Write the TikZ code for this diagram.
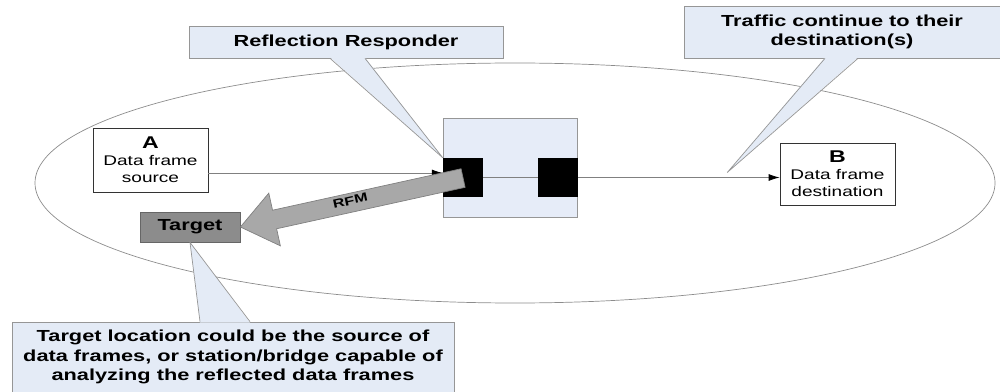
\documentclass[tikz,border=0pt]{standalone}
\usepackage{fontspec}
\setmainfont{Liberation Sans}[FakeStretch=1.36]
\usetikzlibrary{arrows.meta,calc}
\definecolor{callbg}{RGB}{228,235,246}
\definecolor{callrule}{RGB}{150,150,150}
\definecolor{bridgebg}{RGB}{230,236,248}
\definecolor{tgtgrey}{RGB}{140,140,140}
\definecolor{rfmgrey}{RGB}{168,168,168}
\tikzset{
  call/.style={draw=callrule,fill=callbg,align=center,inner sep=0pt,line width=0.7pt,
               font=\fontsize{16}{19.5}\selectfont\bfseries},
  callln/.style={draw=callrule,line width=0.7pt},
  endpt/.style={draw=black!80,fill=white,align=center,inner sep=0pt,line width=0.8pt,
                font=\fontsize{14}{17}\selectfont},
  port/.style={fill=black,minimum width=40,minimum height=39,inner sep=0pt},
  flow/.style={-{Latex[length=11pt,width=7pt,color=black]},draw=black!50,line width=0.8pt},
}

\begin{document}
\begin{tikzpicture}[x=1pt,y=1pt]
  \useasboundingbox (0,0) rectangle (1000,391);

  % --- domain ---------------------------------------------------------------
  \draw[draw=black!45,line width=0.7pt] (515,208) ellipse [x radius=480,y radius=120];

  % --- bridge with its two ports ----------------------------------------------
  \node[draw=callrule,fill=bridgebg,line width=0.8pt,minimum width=134,minimum height=99] (bridge) at (510,223.5) {};
  \node[port] (portl) at (463,213.5) {};
  \node[port] (portr) at (558,213.5) {};

  % --- end stations ---------------------------------------------------------
  \node[endpt,minimum width=115,minimum height=64] (srcA) at (150.5,231)
        {{\fontsize{17}{17}\selectfont\bfseries A}\\Data frame\\source};
  \node[endpt,minimum width=115,minimum height=62] (dstB) at (837.5,217)
        {{\fontsize{17}{17}\selectfont\bfseries B}\\Data frame\\destination};
  \node[draw=black!60,fill=tgtgrey,line width=0.8pt,minimum width=100,minimum height=30,
        font=\fontsize{16}{18}\selectfont\bfseries] (target) at (190,164) {Target};

  % --- traffic --------------------------------------------------------------
  \coordinate (ain) at ([yshift=-13pt]srcA.east);
  \coordinate (bin) at (portr.east -| dstB.west);
  \draw[flow] (ain) -- (ain -| portl.west);
  \draw[draw=black!50,line width=0.8pt] (portl.east) -- (portr.west);
  \draw[flow] (portr.east) -- (bin);

  % RFM back to the target
  \begin{scope}[shift={(target.east)},rotate=12.4]
    \draw[draw=black!50,fill=rfmgrey,line width=0.7pt]
      (0,0) -- (35,27) -- (35,9.5) -- (228,9.5) -- (228,-9.5) -- (35,-9.5) -- (35,-27) -- cycle;
    \node[font=\fontsize{12}{14}\selectfont\bfseries,rotate=12.4,inner sep=0pt] (rfm) at (113,2) {RFM};
  \end{scope}

  % --- callouts -------------------------------------------------------------
  \node[call,minimum width=314,minimum height=32] (cbresp) at (346,349) {Reflection Responder};
  \node[call,minimum width=316,minimum height=52] (cbtraf) at (842,359)
        {Traffic continue to their\\destination(s)};
  \node[call,minimum width=442,minimum height=70] (cbtgt) at (233,34)
        {Target location could be the source of\\data frames, or station/bridge capable of\\analyzing the reflected data frames};

  \coordinate (trtip) at ($(portr.east)!0.74!(bin)+(0,5)$);
  \fill[callbg] ($(cbresp.south)+(-16,1)$) -- (portl.north west) -- ($(cbresp.south)+(19,1)$) -- cycle;
  \draw[callln] ($(cbresp.south)+(-16,0)$) -- (portl.north west) -- ($(cbresp.south)+(19,0)$);
  \fill[callbg] ($(cbtraf.south)+(-17,1)$) -- (trtip) -- ($(cbtraf.south)+(16,1)$) -- cycle;
  \draw[callln] ($(cbtraf.south)+(-17,0)$) -- (trtip) -- ($(cbtraf.south)+(16,0)$);
  \fill[callbg] ($(cbtgt.north)+(-33,-1)$) -- (target.south) -- ($(cbtgt.north)+(17,-1)$) -- cycle;
  \draw[callln] ($(cbtgt.north)+(-33,0)$) -- (target.south) -- ($(cbtgt.north)+(17,0)$);

\end{tikzpicture}
\end{document}
